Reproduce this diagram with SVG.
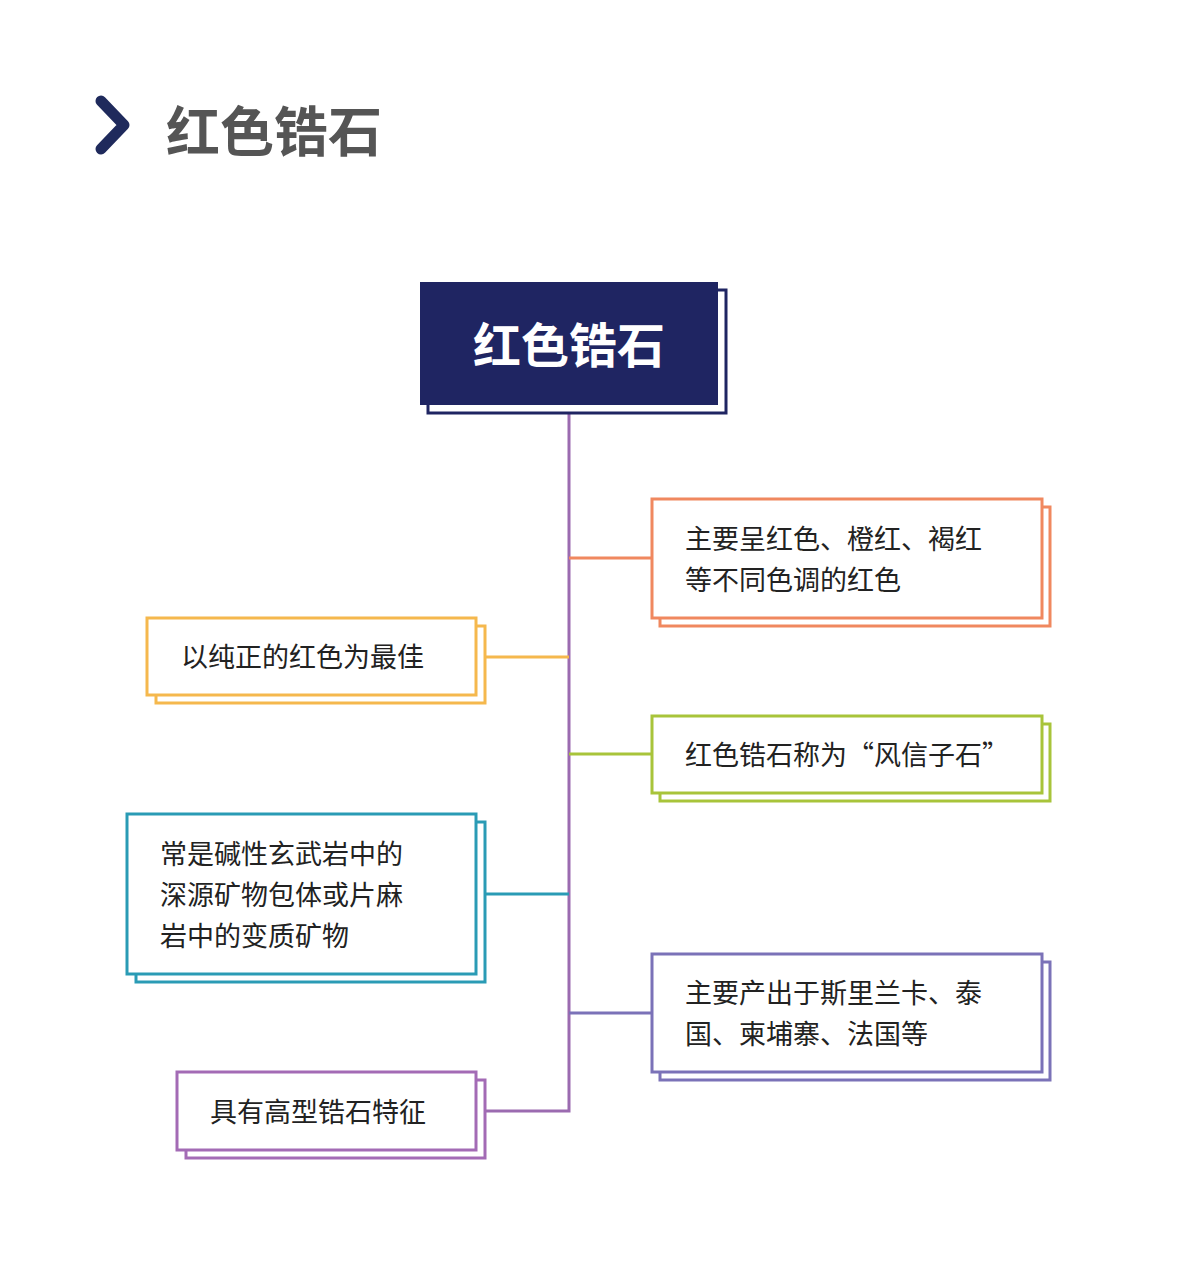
<svg xmlns="http://www.w3.org/2000/svg" width="1179" height="1278" viewBox="0 0 1179 1278">
<style>
text{font-family:"Noto Sans CJK SC","Noto Sans",sans-serif;}
.t{font-size:27px;fill:#222;}
.b{fill:#fff;stroke-width:3;}
.c{fill:none;stroke-width:3;}
</style>
<rect width="1179" height="1278" fill="#fff"/>
<g id="title">
<path d="M101 101 L124 125 L101 149" fill="none" stroke="#1f2a5c" stroke-width="11" stroke-linecap="round" stroke-linejoin="round"/>
<text x="166" y="152" font-size="54" font-weight="bold" fill="#555">红色锆石</text>
</g>
<g id="connectors">
<path class="c" stroke="#9b6bb0" d="M569 413 V1111 H485"/>
<path class="c" stroke="#f0885f" d="M569 558 H652"/>
<path class="c" stroke="#f5b84d" d="M485 657 H569"/>
<path class="c" stroke="#a8c43a" d="M569 754 H652"/>
<path class="c" stroke="#2a9bb5" d="M485 894 H569"/>
<path class="c" stroke="#7b72b8" d="M569 1013 H652"/>
</g>
<g id="root">
<rect x="428" y="290" width="298" height="123" fill="#fff" stroke="#1f2562" stroke-width="3"/>
<rect x="420" y="282" width="298" height="123" fill="#1f2562"/>
<text x="569" y="363" font-size="48" font-weight="bold" fill="#fff" text-anchor="middle">红色锆石</text>
</g>
<g id="n1">
<rect class="b" stroke="#f0885f" x="660" y="507" width="390" height="119"/>
<rect class="b" stroke="#f0885f" x="652" y="499" width="390" height="119"/>
<text class="t" x="685" y="549">主要呈红色、橙红、褐红</text>
<text class="t" x="685" y="590">等不同色调的红色</text>
</g>
<g id="n2">
<rect class="b" stroke="#f5b84d" x="156" y="626" width="329" height="77"/>
<rect class="b" stroke="#f5b84d" x="147" y="618" width="329" height="77"/>
<text class="t" x="181" y="667">以纯正的红色为最佳</text>
</g>
<g id="n3">
<rect class="b" stroke="#a8c43a" x="660" y="724" width="390" height="77"/>
<rect class="b" stroke="#a8c43a" x="652" y="716" width="390" height="77"/>
<text class="t" x="685" y="765">红色锆石称为“风信子石”</text>
</g>
<g id="n4">
<rect class="b" stroke="#2a9bb5" x="136" y="822" width="349" height="160"/>
<rect class="b" stroke="#2a9bb5" x="127" y="814" width="349" height="160"/>
<text class="t" x="160" y="864">常是碱性玄武岩中的</text>
<text class="t" x="160" y="905">深源矿物包体或片麻</text>
<text class="t" x="160" y="946">岩中的变质矿物</text>
</g>
<g id="n5">
<rect class="b" stroke="#7b72b8" x="660" y="962" width="390" height="118"/>
<rect class="b" stroke="#7b72b8" x="652" y="954" width="390" height="118"/>
<text class="t" x="685" y="1003">主要产出于斯里兰卡、泰</text>
<text class="t" x="685" y="1044">国、柬埔寨、法国等</text>
</g>
<g id="n6">
<rect class="b" stroke="#a36bb5" x="186" y="1080" width="299" height="78"/>
<rect class="b" stroke="#a36bb5" x="177" y="1072" width="299" height="78"/>
<text class="t" x="210" y="1122">具有高型锆石特征</text>
</g>
</svg>
